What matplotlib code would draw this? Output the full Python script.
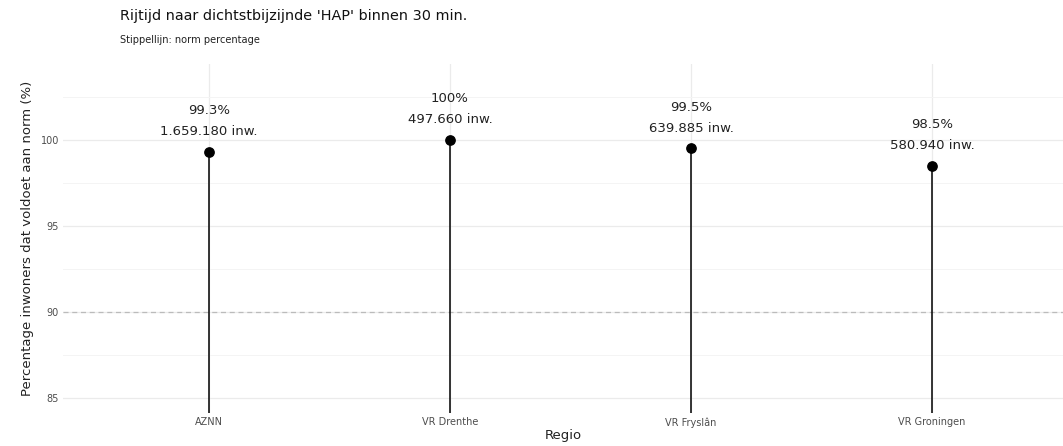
import matplotlib.pyplot as plt
from matplotlib.ticker import MultipleLocator

# data
regios = ["AZNN", "VR Drenthe", "VR Fryslân", "VR Groningen"]
percentages = [99.3, 100.0, 99.5, 98.5]
pct_labels = ["99.3%", "100%", "99.5%", "98.5%"]
inwoners_labels = ["1.659.180 inw.", "497.660 inw.", "639.885 inw.", "580.940 inw."]
norm = 90

fig = plt.figure(figsize=(10.63, 4.46), dpi=100)
ax = fig.add_axes([63 / 1063, 33 / 446, 1000 / 1063, 349 / 446])

x = list(range(len(regios)))
y_bottom = 84.15

# lollipops
ax.vlines(x, y_bottom, percentages, color="black", linewidth=1.1, zorder=3)
ax.scatter(x, percentages, s=45, color="black", zorder=4)

for xi, yi, p, n in zip(x, percentages, pct_labels, inwoners_labels):
    ax.text(xi, yi + 0.8, p + "\n" + n, ha="center", va="bottom",
            fontsize=9.5, color="#222222", linespacing=1.8)

# norm line
ax.axhline(norm, color="#bbbbbb", linestyle=(0, (4, 3)), linewidth=0.9, zorder=2)

ax.set_xlim(-0.606, 3.544)
ax.set_ylim(y_bottom, 104.4)
ax.set_xticks(x)
ax.set_xticklabels(regios)
ax.yaxis.set_minor_locator(MultipleLocator(2.5))
ax.set_yticks([85, 90, 95, 100])

ax.grid(which="major", color="#ebebeb", linewidth=0.9)
ax.grid(which="minor", axis="y", color="#f4f4f4", linewidth=0.7)
ax.set_axisbelow(True)
for s in ax.spines.values():
    s.set_visible(False)
ax.tick_params(length=0, labelsize=7, labelcolor="#4d4d4d", pad=3)
ax.tick_params(which="minor", length=0)

ax.set_xlabel("Regio", fontsize=9.5, color="#222222", labelpad=1)
ax.set_ylabel("Percentage inwoners dat voldoet aan norm (%)", fontsize=9.5,
              color="#222222", labelpad=5)

fig.text(120 / 1063, 1 - 16 / 446, "Rijtijd naar dichtstbijzijnde 'HAP' binnen 30 min.",
         fontsize=10.4, color="#111111", va="center")
fig.text(120 / 1063, 1 - 40 / 446, "Stippellijn: norm percentage",
         fontsize=7.1, color="#222222", va="center")

fig.savefig("out.png", dpi=100, facecolor="white")
